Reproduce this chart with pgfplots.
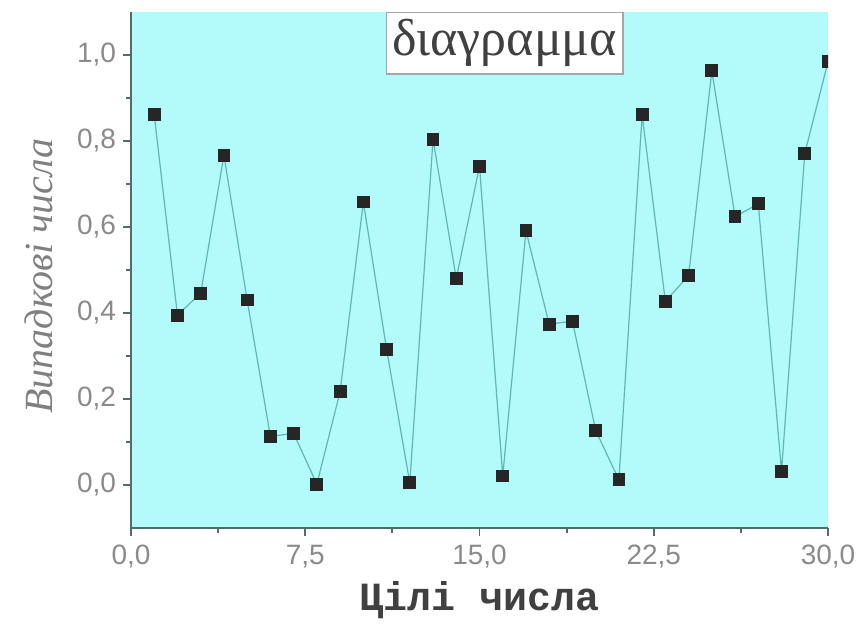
\documentclass[border=0pt]{standalone}
\usepackage{fontspec}
\setmainfont{Liberation Sans}
\newfontfamily\monob{Liberation Mono}
\newfontfamily\serif{Liberation Serif}
\usepackage{pgfplots}
\pgfplotsset{compat=1.18}
\definecolor{bg}{HTML}{B3FBFB}
\definecolor{axisc}{HTML}{4E6E6E}
\definecolor{linec}{HTML}{62B5B5}
\definecolor{tickc}{HTML}{8A8A8A}
\begin{document}
\begin{tikzpicture}
\useasboundingbox (0,0) rectangle (432pt,312pt);
\begin{axis}[
  at={(65.5pt,48pt)}, anchor=south west,
  scale only axis, width=348.5pt, height=258pt,
  xmin=0, xmax=30, ymin=-0.1, ymax=1.1,
  axis x line*=bottom, axis y line*=left,
  xtick={0,7.5,15,22.5,30}, minor x tick num=1,
  ytick={0,0.2,0.4,0.6,0.8,1.0}, minor y tick num=1,
  tick align=outside, major tick length=4pt, minor tick length=2.5pt,
  axis line style={color=axisc, line width=1.2pt},
  every tick/.style={color=axisc, line width=0.9pt},
  ticklabel style={font=\fontsize{14}{14}\selectfont, text=tickc},
  xticklabel style={yshift=-1pt},
  /pgf/number format/.cd, fixed, fixed zerofill, precision=1, use comma, assume math mode=true,
  /pgfplots/.cd,
  xlabel={\monob\bfseries\fontsize{20}{20}\selectfont Цілі числа},
  ylabel={\serif\itshape\fontsize{20}{20}\selectfont Випадкові числа},
  xlabel style={text=black!75, yshift=0pt},
  ylabel style={text=gray, yshift=5pt, xshift=-3pt},
  axis background/.style={fill=bg},
  clip marker paths=true,
]
\addplot[color=linec, line width=0.6pt, mark=square*, mark size=2.9pt,
  mark options={fill=black!85, draw=black!85}] coordinates {
(1,0.861) (2,0.395) (3,0.446) (4,0.767) (5,0.430) (6,0.113) (7,0.120) (8,0.002)
(9,0.217) (10,0.658) (11,0.316) (12,0.005) (13,0.804) (14,0.480) (15,0.741)
(16,0.021) (17,0.591) (18,0.374) (19,0.381) (20,0.127) (21,0.012) (22,0.861)
(23,0.427) (24,0.487) (25,0.963) (26,0.624) (27,0.654) (28,0.032) (29,0.771) (30,0.984)
};
\node[draw=gray!70, fill=white, line width=0.6pt, anchor=north, inner xsep=3pt, inner ysep=3.5pt,
  font=\serif\fontsize{26}{26}\selectfont, text=black!75] at (rel axis cs:0.536,1) {διαγραμμα};
\end{axis}
\end{tikzpicture}
\end{document}
